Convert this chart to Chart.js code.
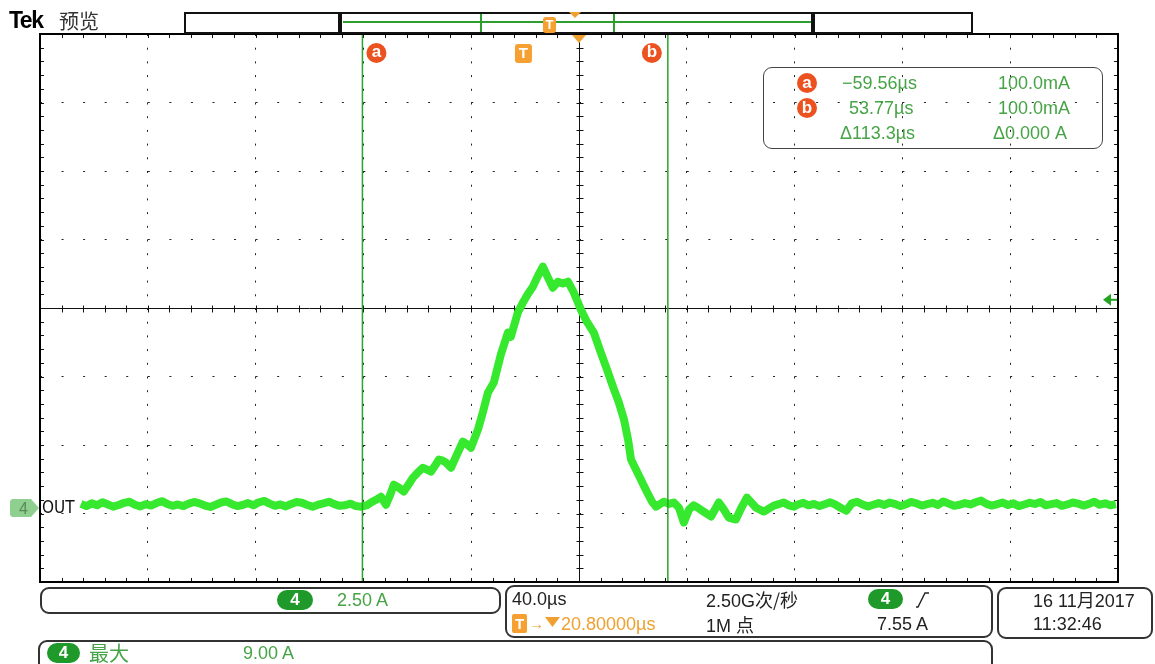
<!DOCTYPE html>
<html>
<head>
<meta charset="utf-8">
<script src="https://cdn.jsdelivr.net/npm/chart.js@4.4.1/dist/chart.umd.min.js"></script>
<style>
  body { margin:0; background:#fff; }
  #wrap { position:relative; width:1155px; height:664px; overflow:hidden; font-family:"Liberation Sans", Arial, sans-serif; color:#222; }
  #scope { position:absolute; left:0; top:0; }
  .t { position:absolute; white-space:nowrap; font-size:18px; line-height:20px; }
  .g { color:#46a346; }
  .o { color:#f0a030; }
  .box { position:absolute; border:2px solid #333; border-radius:9px; box-sizing:border-box; }
  .pill { position:absolute; background:#1f9a2a; color:#fff; font-weight:bold; font-size:17px; line-height:20px; height:20px; border-radius:10px; text-align:center; }
  .dot { position:absolute; width:20px; height:20px; border-radius:50%; background:#ec5220; color:#fff; font-weight:bold; font-size:17px; line-height:19px; text-align:center; }
  .cjk { font-family:"Noto Sans CJK SC", sans-serif; }
</style>
</head>
<body>
<div id="wrap">
  <canvas id="scope" width="1155" height="664"></canvas>

  <!-- header -->
  <div class="t" style="left:9px;top:10px;font-family:'Liberation Sans',sans-serif;font-weight:bold;font-size:23px;letter-spacing:-1.5px;color:#000">Tek</div>
  <div class="t cjk" style="left:59px;top:9px;font-size:20px;line-height:24px;color:#333">预览</div>

  <!-- record overview bar -->
  <div style="position:absolute;left:184px;top:12px;width:789px;height:22px;border:2px solid #111;box-sizing:border-box"></div>
  <div style="position:absolute;left:338px;top:12px;width:4px;height:22px;background:#111;border-radius:3px 0 0 3px"></div>
  <div style="position:absolute;left:811px;top:12px;width:4px;height:22px;background:#111;border-radius:0 3px 3px 0"></div>
  <div style="position:absolute;left:343px;top:21px;width:468px;height:2px;background:#2e9e2e"></div>
  <div style="position:absolute;left:480px;top:14px;width:2px;height:18px;background:#2e9e2e"></div>
  <div style="position:absolute;left:613px;top:14px;width:2px;height:18px;background:#2e9e2e"></div>
  <div style="position:absolute;left:543px;top:17px;width:13px;height:16px;background:#f5a030;border-radius:3px;color:#fff;font-weight:bold;font-size:13px;line-height:16px;text-align:center">T</div>
  <svg style="position:absolute;left:569px;top:12px" width="12" height="7"><polygon points="0,0 12,0 6,6" fill="#f0a030"/></svg>

  <!-- channel ground marker -->
  <svg style="position:absolute;left:10px;top:499px" width="30" height="18"><polygon points="0,2 2,0 21,0 29,9 21,18 2,18 0,16" fill="#8fcf8f"/><text x="9" y="15" font-family="Liberation Sans" font-size="16" fill="#5a8a5a">4</text></svg>
  <div class="t" style="left:42px;top:497px;font-size:17px;color:#111;font-family:'DejaVu Sans Condensed','Liberation Sans Narrow',sans-serif">OUT</div>

  <!-- cursor readout -->
  <div class="box" style="left:763px;top:67px;width:340px;height:82px;border-color:#444;border-width:1.5px"></div>
  <div class="dot" style="left:797px;top:73px">a</div>
  <div class="dot" style="left:797px;top:98px">b</div>
  <div class="t g" style="left:842px;top:73px">−59.56µs</div>
  <div class="t g" style="left:998px;top:73px">100.0mA</div>
  <div class="t g" style="left:849px;top:98px">53.77µs</div>
  <div class="t g" style="left:998px;top:98px">100.0mA</div>
  <div class="t g" style="left:840px;top:123px">Δ113.3µs</div>
  <div class="t g" style="left:993px;top:123px">Δ0.000 A</div>

  <!-- bottom status -->
  <div class="box" style="left:40px;top:587px;width:461px;height:27px"></div>
  <div class="pill" style="left:277px;top:590px;width:36px">4</div>
  <div class="t g" style="left:337px;top:590px">2.50 A</div>

  <div class="box" style="left:505px;top:585px;width:488px;height:53px"></div>
  <div class="t" style="left:512px;top:589px">40.0µs</div>
  <div style="position:absolute;left:512px;top:614px;width:15px;height:19px;background:#f5a030;border-radius:2px;color:#fff;font-weight:bold;font-size:15px;line-height:19px;text-align:center">T</div>
  <div class="t o" style="left:529px;top:614px;font-size:15px">→</div>
  <svg style="position:absolute;left:545px;top:617px" width="15" height="10"><polygon points="0,0 15,0 7.5,10" fill="#f0a030"/></svg>
  <div class="t o" style="left:561px;top:614px">20.80000µs</div>
  <div class="t" style="left:706px;top:589px">2.50G<span class="cjk">次/秒</span></div>
  <div class="t" style="left:706px;top:614px">1M <span class="cjk">点</span></div>
  <div class="pill" style="left:868px;top:589px;width:35px">4</div>
  <svg style="position:absolute;left:916px;top:591px" width="14" height="18"><polyline points="0,16 2,16 9,2 13,2" fill="none" stroke="#222" stroke-width="1.4"/></svg>
  <div class="t" style="left:877px;top:614px">7.55 A</div>

  <div class="box" style="left:997px;top:587px;width:156px;height:52px"></div>
  <div class="t" style="left:1033px;top:589px">16 11<span class="cjk">月</span>2017</div>
  <div class="t" style="left:1033px;top:614px">11:32:46</div>

  <div class="box" style="left:38px;top:640px;width:955px;height:40px"></div>
  <div class="pill" style="left:47px;top:643px;width:33px">4</div>
  <div class="t g cjk" style="left:89px;top:641px;font-size:20px;line-height:24px">最大</div>
  <div class="t g" style="left:243px;top:643px">9.00 A</div>
</div>

<script>
// horizontal: 40 us/div, trigger delay 20.8 us at screen centre
const usPerDiv = 40;
const trigDelayUs = 20.8;
const xMin = -179.2, xMax = 220.8;
const xGridTicks = [-179.2, -139.2, -99.2, -59.2, -19.2, 20.8, 60.8, 100.8, 140.8, 180.8, 220.8];

// vertical: 2.50 A/div, ground 2.9 div below centre
const ampPerDiv = 2.5;
const yMin = -2.75, yMax = 17.25;
const yCentre = 7.25;
const yGridTicks = [-2.75, -0.25, 2.25, 4.75, 7.25, 9.75, 12.25, 14.75, 17.25];

const cursorAus = -59.56;
const cursorBus = 53.77;
const trigLevelA = 7.55;

// channel 4 trace
const timeUs = [
  -164, -162, -160, -158, -156, -154, -152, -150, -148, -146, -144, -142, -140, -138, -136, -134, -132, -130,
  -128, -126, -124, -122, -120, -118, -116, -114, -112, -110, -108, -106, -104, -102, -100, -98, -96, -94,
  -92, -90, -88, -86, -84, -82, -80, -78, -76, -74, -72, -70, -68, -66, -64, -62, -60,
  -58, -56.4, -54.5, -52.7, -50.8, -49.3, -47.9, -46.0, -44.2, -42.5, -40.8, -39.0, -37.1, -35.6, -34.1,
  -32.6, -31.2, -29.8, -28.6, -26.7, -24.5, -22.3, -20.8, -19.3, -16.7, -14.8, -13.0, -10.8, -8.2, -5.6,
  -4.5, -1.9, 0.0, 1.9, 3.7, 5.6, 7.4, 9.3, 11.1, 13.0, 14.8, 16.7, 18.9, 21.5, 23.7, 26.3, 28.9, 31.2,
  33.8, 35.6, 37.5, 39.0, 40.1, 42.7, 45.6, 47.9, 49.4, 52.3, 54.2, 56.0, 57.9, 59.7, 61.6, 63.3, 64.9,
  67.3, 69.8, 72.7, 74.5, 76.4, 79.0, 81.0, 83.1, 86.5, 89.4, 93.1, 96.8, 98.6, 100.6,
  102, 104, 106, 108, 110, 112, 114, 116, 118, 120, 122, 124, 126, 128, 130, 132, 134, 136, 138, 140,
  142, 144, 146, 148, 150, 152, 154, 156, 158, 160, 162, 164, 166, 168, 170, 172, 174, 176, 178, 180,
  182, 184, 186, 188, 190, 192, 194, 196, 198, 200, 202, 204, 206, 208, 210, 212, 214, 216, 218, 220
];
const currentA = [
  0.10, 0.02, 0.12, 0.05, 0.16, 0.08, 0.00, 0.06, 0.14, 0.18, 0.07, 0.01, 0.09, 0.04, 0.13, 0.20, 0.10, 0.03,
  0.08, 0.02, 0.11, 0.17, 0.12, 0.04, -0.01, 0.07, 0.15, 0.19, 0.09, 0.02, 0.06, 0.13, 0.05, 0.16, 0.21, 0.11,
  0.03, 0.08, 0.01, 0.10, 0.17, 0.14, 0.06, 0.00, 0.07, 0.12, 0.18, 0.09, 0.03, 0.05, 0.11, 0.02, 0.00,
  0.05, 0.15, 0.25, 0.36, 0.07, 0.42, 0.80, 0.69, 0.55, 0.80, 1.06, 1.25, 1.42, 1.35, 1.28,
  1.50, 1.72, 1.68, 1.61, 1.42, 1.90, 2.37, 2.28, 2.15, 2.81, 3.47, 4.16, 4.53, 5.55, 6.35,
  6.20, 7.08, 7.45, 7.77, 8.03, 8.43, 8.76, 8.36, 7.99, 8.21, 8.14, 8.21, 7.81, 7.19, 6.75, 6.35, 5.62, 5.00,
  4.27, 3.80, 3.18, 2.45, 1.72, 1.20, 0.62, 0.18, 0.00, 0.18, 0.10, 0.15, -0.04, -0.58, -0.11, 0.05, -0.04,
  -0.20, -0.36, 0.15, -0.10, -0.40, -0.47, -0.05, 0.33, -0.04, -0.18, 0.04, 0.15, 0.05, 0.00,
  0.08, 0.14, 0.05, 0.10, 0.02, 0.09, 0.16, 0.07, -0.05, -0.15, 0.12, 0.18, 0.08, 0.01, 0.07, 0.13, 0.06, 0.15, 0.10, 0.02,
  0.08, 0.17, 0.12, 0.04, 0.09, 0.14, 0.06, 0.19, 0.11, 0.03, 0.07, 0.13, 0.08, 0.16, 0.22, 0.10, 0.04, 0.09, 0.15, 0.06,
  0.12, 0.02, 0.08, 0.14, 0.10, 0.17, 0.05, 0.09, 0.13, 0.03, 0.08, 0.15, 0.11, 0.04, 0.10, 0.18, 0.07, 0.12, 0.05, 0.09
];

const traceColor = '#36e82e';
const cursorColor = '#2aa62a';

// graticule: centre cross and minor ticks, under the trace
const graticule = {
  id: 'graticule',
  beforeDatasetsDraw(chart) {
    const { ctx, chartArea: a, scales: { x, y } } = chart;
    const xc = Math.round(x.getPixelForValue(trigDelayUs)) + 0.5;
    const yc = Math.round(y.getPixelForValue(yCentre)) + 0.5;
    ctx.save();
    ctx.strokeStyle = '#111';
    ctx.lineWidth = 1;
    ctx.beginPath();
    ctx.moveTo(a.left, yc); ctx.lineTo(a.right, yc);
    ctx.moveTo(xc, a.top); ctx.lineTo(xc, a.bottom);
    for (let k = 0; k <= 50; k++) {
      const px = Math.round(x.getPixelForValue(xMin + k * usPerDiv / 5)) + 0.5;
      ctx.moveTo(px, yc - 3); ctx.lineTo(px, yc + 4);
      ctx.moveTo(px, a.top); ctx.lineTo(px, a.top + 4);
      ctx.moveTo(px, a.bottom); ctx.lineTo(px, a.bottom - 4);
    }
    for (let k = 0; k <= 40; k++) {
      const py = Math.round(y.getPixelForValue(yMin + k * ampPerDiv / 5)) + 0.5;
      ctx.moveTo(xc - 3, py); ctx.lineTo(xc + 4, py);
      ctx.moveTo(a.left, py); ctx.lineTo(a.left + 4, py);
      ctx.moveTo(a.right, py); ctx.lineTo(a.right - 4, py);
    }
    ctx.stroke();
    ctx.restore();
  },
  afterDraw(chart) {
    const { ctx, chartArea: a, scales: { x, y } } = chart;
    ctx.save();
    // frame
    ctx.strokeStyle = '#000';
    ctx.lineWidth = 2;
    ctx.strokeRect(a.left, a.top, a.right - a.left, a.bottom - a.top);

    // cursor badges
    const badge = (cx, letter) => {
      ctx.fillStyle = '#ec5220';
      ctx.beginPath(); ctx.arc(cx, 53, 10, 0, Math.PI * 2); ctx.fill();
      ctx.fillStyle = '#fff';
      ctx.font = 'bold 17px "Liberation Sans"';
      ctx.textAlign = 'center'; ctx.textBaseline = 'middle';
      ctx.fillText(letter, cx, 52);
    };
    badge(x.getPixelForValue(cursorAus) + 14, 'a');
    badge(x.getPixelForValue(cursorBus) - 16, 'b');

    // trigger point T
    const tx = x.getPixelForValue(0);
    ctx.fillStyle = '#f5a030';
    ctx.beginPath(); ctx.roundRect(tx - 8, 44, 17, 19, 3); ctx.fill();
    ctx.fillStyle = '#fff';
    ctx.font = 'bold 15px "Liberation Sans"';
    ctx.fillText('T', tx + 0.5, 53.5);

    // horizontal position marker
    const cx = x.getPixelForValue(trigDelayUs);
    ctx.fillStyle = '#f0a030';
    ctx.beginPath(); ctx.moveTo(cx - 7, a.top + 1); ctx.lineTo(cx + 7, a.top + 1); ctx.lineTo(cx, a.top + 9); ctx.fill();

    // trigger level arrow
    const ty = y.getPixelForValue(trigLevelA);
    ctx.fillStyle = '#22a322';
    ctx.beginPath(); ctx.moveTo(a.right - 15, ty); ctx.lineTo(a.right - 7, ty - 6); ctx.lineTo(a.right - 7, ty + 6); ctx.fill();
    ctx.fillRect(a.right - 8, ty - 1, 7, 2);
    ctx.restore();
  }
};

new Chart(document.getElementById('scope').getContext('2d'), {
  type: 'line',
  data: {
    datasets: [
      {
        data: [{ x: cursorAus, y: yMax }, { x: cursorAus, y: yMin }],
        borderColor: cursorColor, borderWidth: 1.5, pointRadius: 0, order: 0
      },
      {
        data: [{ x: cursorBus, y: yMax }, { x: cursorBus, y: yMin }],
        borderColor: cursorColor, borderWidth: 1.5, pointRadius: 0, order: 0
      },
      {
        data: timeUs.map((t, i) => ({ x: t, y: currentA[i] })),
        borderColor: traceColor, borderWidth: 8, pointRadius: 0, tension: 0,
        borderJoinStyle: 'round', order: 1
      }
    ]
  },
  options: {
    responsive: false,
    animation: false,
    events: [],
    layout: { padding: { left: 40, top: 34, right: 37, bottom: 82 } },
    scales: {
      x: {
        type: 'linear', min: xMin, max: xMax,
        afterBuildTicks: s => { s.ticks = xGridTicks.map(v => ({ value: v })); },
        ticks: { display: false },
        grid: { color: '#222', lineWidth: 1, drawTicks: false },
        border: { display: false, dash: [2, 11.7] }
      },
      y: {
        type: 'linear', min: yMin, max: yMax,
        afterBuildTicks: s => { s.ticks = yGridTicks.map(v => ({ value: v })); },
        ticks: { display: false },
        grid: { color: '#222', lineWidth: 1, drawTicks: false },
        border: { display: false, dash: [2, 19.56] }
      }
    },
    plugins: {
      legend: { display: false },
      tooltip: { enabled: false }
    }
  },
  plugins: [graticule]
});
</script>
</body>
</html>
